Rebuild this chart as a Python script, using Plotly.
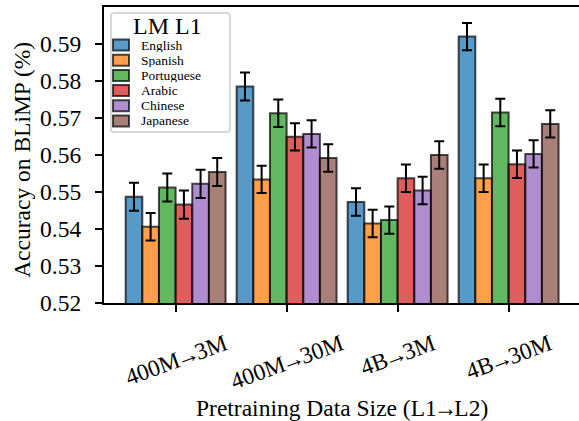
import re
import plotly.graph_objects as go

# Pretraining data-size conditions (L1 -> L2)
conditions = ["400M→3M", "400M→30M", "4B→3M", "4B→30M"]

# BLiMP accuracy per L1 language
languages = ["English", "Spanish", "Portuguese", "Arabic", "Chinese", "Japanese"]
acc_english = [0.5487, 0.5785, 0.5473, 0.5920]
acc_spanish = [0.5406, 0.5534, 0.5415, 0.5537]
acc_portuguese = [0.5512, 0.5713, 0.5424, 0.5715]
acc_arabic = [0.5466, 0.5649, 0.5537, 0.5575]
acc_chinese = [0.5522, 0.5657, 0.5504, 0.5603]
acc_japanese = [0.5554, 0.5592, 0.5600, 0.5684]

# standard errors
err_english = [0.0038, 0.0038, 0.0037, 0.0037]
err_spanish = [0.0037, 0.0037, 0.0037, 0.0037]
err_portuguese = [0.0038, 0.0037, 0.0037, 0.0037]
err_arabic = [0.0038, 0.0037, 0.0037, 0.0037]
err_chinese = [0.0038, 0.0037, 0.0037, 0.0037]
err_japanese = [0.0038, 0.0037, 0.0037, 0.0037]

y_ticks = [0.52, 0.53, 0.54, 0.55, 0.56, 0.57, 0.58, 0.59]
y_tick_labels = ["0.52", "0.53", "0.54", "0.55", "0.56", "0.57", "0.58", "0.59"]

series = [
    (acc_english, err_english),
    (acc_spanish, err_spanish),
    (acc_portuguese, err_portuguese),
    (acc_arabic, err_arabic),
    (acc_chinese, err_chinese),
    (acc_japanese, err_japanese),
]
colors = [
    "rgba(31,119,180,0.75)",
    "rgba(255,127,14,0.75)",
    "rgba(44,160,44,0.75)",
    "rgba(214,39,40,0.75)",
    "rgba(148,103,189,0.75)",
    "rgba(140,86,75,0.75)",
]
EDGE = "rgba(0,0,0,0.7)"
FONT = "Liberation Serif"

# plot-area geometry in pixels (used to place the hand-built legend and labels)
W, H = 579, 421
ML, MR, MT, MB = 104, 0, 7, 118
PW, PH = W - ML - MR, H - MT - MB


def px_x(px):
    return (px - ML) / PW


def px_y(py):
    return (H - MB - py) / PH


def tight_arrow(s):
    # pull the arrow glyph in against its neighbours
    return re.sub(r"(.)→", r'<span style="letter-spacing:-3px">\1→</span>', s)


fig = go.Figure()
for name, (vals, errs), col in zip(languages, series, colors):
    fig.add_trace(go.Bar(
        name=name,
        x=conditions,
        y=vals,
        showlegend=False,
        marker=dict(color=col, line=dict(color=EDGE, width=2)),
        error_y=dict(type="data", array=errs, color="black", thickness=2, width=5),
    ))

# y tick labels in the serif face
for v, lab in zip(y_ticks, y_tick_labels):
    fig.add_annotation(
        x=px_x(83), xref="paper", y=v, yref="y",
        text=lab, showarrow=False, xanchor="right", yanchor="middle",
        font=dict(family=FONT, size=23.5, color="black"),
    )

# rotated, centred condition labels under the axis
for c in conditions:
    fig.add_annotation(
        x=c, xref="x", y=-0.081, yref="paper",
        text=tight_arrow(c), showarrow=False, textangle=-20,
        xanchor="center", yanchor="top",
        font=dict(family=FONT, size=23.5, color="black"),
    )

fig.add_annotation(
    x=0.5, xref="paper", y=-0.355, yref="paper",
    text=tight_arrow("Pretraining Data Size (L1→L2)"), showarrow=False,
    xanchor="center", yanchor="middle",
    font=dict(family=FONT, size=23.5, color="black"),
)
fig.add_annotation(
    x=-0.173, xref="paper", y=0.483, yref="paper",
    text="Accuracy on BLiMP (%)", showarrow=False, textangle=-90,
    xanchor="center", yanchor="middle",
    font=dict(family=FONT, size=23.5, color="black"),
)

# legend: rounded frame, title, swatches and labels
x0, x1 = px_x(111), px_x(230)
y0, y1 = px_y(132), px_y(13)
rx, ry = 3 / PW, 3 / PH
frame = (
    f"M{x0 + rx},{y1} L{x1 - rx},{y1} Q{x1},{y1} {x1},{y1 - ry} "
    f"L{x1},{y0 + ry} Q{x1},{y0} {x1 - rx},{y0} "
    f"L{x0 + rx},{y0} Q{x0},{y0} {x0},{y0 + ry} "
    f"L{x0},{y1 - ry} Q{x0},{y1} {x0 + rx},{y1} Z"
)
fig.add_shape(type="path", path=frame, xref="paper", yref="paper",
              fillcolor="rgba(255,255,255,0.85)", line=dict(color="#cccccc", width=1.5))
fig.add_annotation(
    x=px_x(167), xref="paper", y=px_y(26), yref="paper",
    text="LM L1", showarrow=False, xanchor="center", yanchor="middle",
    height=22, valign="middle",
    font=dict(family=FONT, size=24, color="black"),
)
for i, (name, col) in enumerate(zip(languages, colors)):
    cy = 45 + 15.2 * i
    fig.add_shape(type="rect", xref="paper", yref="paper",
                  x0=px_x(113), x1=px_x(129), y0=px_y(cy + 5.5), y1=px_y(cy - 5.5),
                  fillcolor=col, line=dict(color=EDGE, width=2))
    fig.add_annotation(
        x=px_x(139), xref="paper", y=px_y(cy), yref="paper",
        text=name, showarrow=False, xanchor="left", yanchor="middle",
        height=13, valign="middle",
        font=dict(family=FONT, size=13.5, color="black"),
    )

fig.update_layout(
    width=W, height=H,
    margin=dict(l=ML, r=MR, t=MT, b=MB),
    paper_bgcolor="white", plot_bgcolor="white",
    barmode="group", bargap=0.1, bargroupgap=0,
    font=dict(family=FONT, size=23.5, color="black"),
    showlegend=False,
    xaxis=dict(
        range=[-0.645, 3.634],
        showticklabels=False,
        ticks="outside", ticklen=7, tickwidth=1.5, tickcolor="black",
        showline=True, linewidth=2, linecolor="black", mirror=True,
        showgrid=False, zeroline=False,
    ),
    yaxis=dict(
        range=[0.52, 0.60],
        tickvals=y_ticks,
        showticklabels=False,
        ticks="outside", ticklen=7, tickwidth=1.5, tickcolor="black",
        showline=True, linewidth=2, linecolor="black",
        showgrid=False, zeroline=False,
    ),
)

fig.write_html("out.html")
